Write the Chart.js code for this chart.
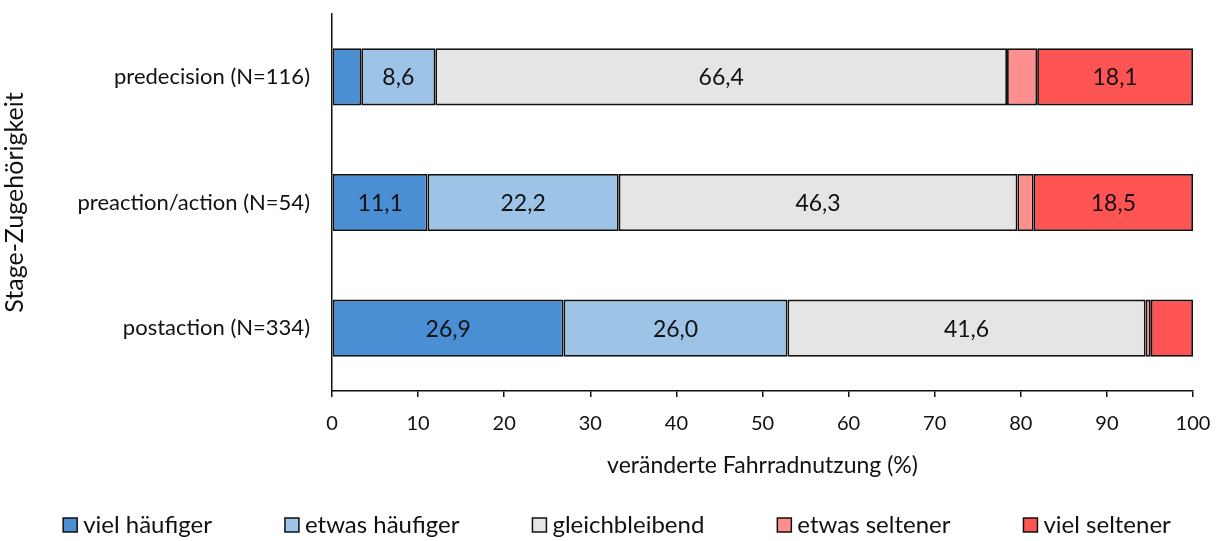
<!DOCTYPE html>
<html>
<head>
<meta charset="utf-8">
<script src="https://cdn.jsdelivr.net/npm/chart.js@4/dist/chart.umd.min.js"></script>
<style>
  html, body { margin: 0; padding: 0; background: #fff; }
  #wrap { width: 1223px; height: 541px; }
</style>
</head>
<body>
<div id="wrap"><canvas id="stageChart" width="1223" height="541"></canvas></div>
<script>
// categories (stage groups) and tick labels
var stages = ['predecision (N=116)', 'preaction/action (N=54)', 'postaction (N=334)'];
var xTicks = [0, 10, 20, 30, 40, 50, 60, 70, 80, 90, 100];

// percentages per answer category
var vielHaeufiger  = [3.4, 11.1, 26.9];
var etwasHaeufiger = [8.6, 22.2, 26.0];
var gleichbleibend = [66.4, 46.3, 41.6];
var etwasSeltener  = [3.5, 1.9, 0.6];
var vielSeltener   = [18.1, 18.5, 4.9];

var seriesNames = ['viel häufiger', 'etwas häufiger', 'gleichbleibend', 'etwas seltener', 'viel seltener'];
var seriesColors = ['#4a8fd3', '#9dc3e6', '#e5e5e5', '#ff8f8f', '#ff5454'];
var seriesData = [vielHaeufiger, etwasHaeufiger, gleichbleibend, etwasSeltener, vielSeltener];

var FONT = 'Lato, "Open Sans", sans-serif';
var TEXT = '#111';
var EDGE = '#111';

// values written into the bars (only the wider segments)
var barLabels = {
  id: 'barLabels',
  afterDatasetsDraw: function(chart) {
    var ctx = chart.ctx;
    ctx.save();
    ctx.font = '23px ' + FONT;
    ctx.fillStyle = TEXT;
    ctx.textAlign = 'center';
    ctx.textBaseline = 'middle';
    chart.data.datasets.forEach(function(ds, i) {
      var meta = chart.getDatasetMeta(i);
      meta.data.forEach(function(bar, j) {
        var v = ds.data[j];
        if (v < 5) return;
        var p = bar.getCenterPoint();
        ctx.fillText(v.toFixed(1).replace('.', ','), p.x, p.y + 1);
      });
    });
    ctx.restore();
  }
};

// legend row under the axis title, built from the datasets
var bottomLegend = {
  id: 'bottomLegend',
  afterDraw: function(chart) {
    var ctx = chart.ctx;
    var box = 14, gapText = 6, gapItem = 73, y = 525;
    ctx.save();
    ctx.font = '24px ' + FONT;
    var items = chart.data.datasets.map(function(ds) {
      return { ds: ds, w: box + gapText + ctx.measureText(ds.label).width };
    });
    var total = items.reduce(function(s, it) { return s + it.w; }, 0) + gapItem * (items.length - 1);
    var x = 617 - total / 2;
    ctx.textBaseline = 'middle';
    ctx.textAlign = 'left';
    items.forEach(function(it) {
      ctx.fillStyle = it.ds.backgroundColor;
      ctx.fillRect(x, y - box / 2, box, box);
      ctx.strokeStyle = EDGE;
      ctx.lineWidth = 1.5;
      ctx.strokeRect(x, y - box / 2, box, box);
      ctx.fillStyle = TEXT;
      ctx.fillText(it.ds.label, x + box + gapText, y);
      x += it.w + gapItem;
    });
    ctx.restore();
  }
};

var datasets = seriesNames.map(function(name, i) {
  return {
    label: name,
    data: seriesData[i],
    backgroundColor: seriesColors[i],
    borderColor: EDGE,
    borderWidth: 1.8,
    borderSkipped: false,
    categoryPercentage: 1,
    barPercentage: 0.455
  };
});

var ctx = document.getElementById('stageChart').getContext('2d');
var stageChart = new Chart(ctx, {
  type: 'bar',
  data: { labels: stages, datasets: datasets },
  plugins: [barLabels, bottomLegend],
  options: {
    indexAxis: 'y',
    responsive: false,
    animation: false,
    layout: { padding: { left: 0, right: 30, top: 14, bottom: 62 } },
    plugins: {
      legend: { display: false },
      tooltip: { enabled: false }
    },
    scales: {
      x: {
        stacked: true,
        min: 0,
        max: 100,
        afterBuildTicks: function(scale) {
          scale.ticks = xTicks.map(function(v) { return { value: v }; });
        },
        afterFit: function(scale) {
          scale.height = 88;
          scale.paddingLeft = 0;
          scale.paddingRight = 0;
        },
        grid: {
          drawOnChartArea: false,
          drawTicks: true,
          tickLength: 6,
          color: EDGE,
          lineWidth: 1.5
        },
        border: { display: true, color: EDGE, width: 1.5 },
        ticks: {
          font: { family: FONT, size: 20 },
          color: TEXT,
          padding: 15,
          maxRotation: 0
        },
        title: {
          display: true,
          text: 'veränderte Fahrradnutzung (%)',
          font: { family: FONT, size: 23 },
          color: TEXT,
          padding: { top: 4, bottom: 0 }
        }
      },
      y: {
        stacked: true,
        afterFit: function(scale) {
          scale.width = 332;
          scale.paddingTop = 0;
          scale.paddingBottom = 0;
        },
        grid: { display: false, drawTicks: false },
        border: { display: true, color: EDGE, width: 1.5 },
        ticks: {
          font: { family: FONT, size: 22 },
          color: TEXT,
          padding: 22
        },
        title: {
          display: true,
          text: 'Stage-Zugehörigkeit',
          font: { family: FONT, size: 25 },
          color: TEXT,
          padding: { top: 0, bottom: 0 }
        }
      }
    }
  }
});
</script>
</body>
</html>
